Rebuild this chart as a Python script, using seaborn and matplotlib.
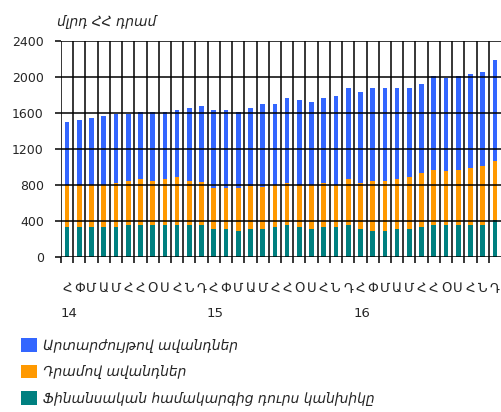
import matplotlib
matplotlib.use("Agg")
import matplotlib.pyplot as plt
from matplotlib.patches import Patch
import numpy as np
import pandas as pd
import seaborn as sns

# Monthly money components, bn AMD, Jan 2014 – Dec 2016
cash = [333, 333, 333, 333, 333, 356, 356, 356, 356, 356, 356, 356,
        311, 311, 289, 311, 311, 333, 356, 333, 311, 333, 333, 356,
        311, 289, 289, 311, 311, 333, 356, 356, 356, 356, 356, 411]
dram_dep = [467, 467, 467, 467, 489, 488, 511, 488, 511, 533, 488, 477,
            456, 456, 478, 478, 467, 467, 466, 467, 489, 489, 467, 511,
            511, 555, 555, 556, 578, 600, 611, 600, 611, 633, 655, 656]
fx_dep = [700, 722, 744, 767, 767, 745, 744, 767, 744, 744, 812, 845,
          866, 866, 844, 867, 922, 900, 945, 944, 922, 945, 989, 1011,
          1011, 1034, 1034, 1011, 989, 989, 1044, 1033, 1044, 1044, 1045, 1122]

month_letters = ["Հ", "Փ", "Մ", "Ա", "Մ", "Հ", "Հ", "Օ", "Ս", "Հ", "Ն", "Դ"]
years = ["14", "15", "16"]
y_ticks = [0, 400, 800, 1200, 1600, 2000, 2400]

series_labels = ["Արտարժույթով ավանդներ", "Դրամով ավանդներ",
                 "Ֆինանսական համակարգից դուրս կանխիկը"]
colors = ["#3366ff", "#ff9900", "#008080"]

n = len(cash)
df = pd.DataFrame({
    "idx": np.arange(n),
    "cash": cash,
    "dram": np.array(cash) + np.array(dram_dep),
    "total": np.array(cash) + np.array(dram_dep) + np.array(fx_dep),
})

sns.set_style("white")
plt.rcParams["font.family"] = ["DejaVu Sans"]

fig = plt.figure(figsize=(5.01, 4.12), dpi=100)
ax = fig.add_axes([61 / 501, 155 / 412, 440 / 501, 216 / 412])

# stacked bars: draw the cumulative layers from the tallest down
for col, c in zip(["total", "dram", "cash"], colors):
    sns.barplot(data=df, x="idx", y=col, color=c, saturation=1,
                width=0.38, linewidth=0, errorbar=None, ax=ax,
                native_scale=True)

ax.set_xlim(-0.5, n - 0.5)
ax.set_ylim(0, 2400)
ax.set_xlabel("")
ax.set_ylabel("")
for s in ax.spines.values():
    s.set_visible(False)

# month initials under each bar, boundary lines between bars
ax.set_xticks(np.arange(n))
ax.set_xticklabels(month_letters * len(years), fontsize=9.5)
ax.set_xticks(np.arange(n) - 0.5, minor=True)
ax.tick_params(axis="x", which="major", length=0, pad=18)
ax.tick_params(axis="x", which="minor", length=4.3, width=1.1,
               color="black", direction="out")
ax.tick_params(axis="x", which="both", bottom=True)

ax.set_yticks(y_ticks)
ax.set_yticklabels([str(v) for v in y_ticks], fontsize=9)
ax.tick_params(axis="y", length=4.3, width=1.1, color="black",
               pad=8, left=True)

ax.grid(False)
ax.grid(True, which="minor", axis="x", color="black", linewidth=1.1)
ax.grid(True, which="major", axis="y", color="black", linewidth=1.1)
ax.set_axisbelow(False)

# year labels under each January
for i, yr in enumerate(years):
    ax.annotate(yr, xy=(i * 12 - 0.55, 0), xycoords=("data", "axes fraction"),
                xytext=(0, -40.5), textcoords="offset points",
                ha="left", va="center", fontsize=9.5)

fig.text(57 / 501, 1 - 22 / 412, "մլրդ ՀՀ դրամ", fontsize=10,
         style="italic", ha="left", va="center")

handles = [Patch(facecolor=c, edgecolor="none") for c in colors]
fig.legend(handles, series_labels, loc="upper left",
           bbox_to_anchor=(21 / 501, 1 - 338 / 412), frameon=False,
           borderpad=0, borderaxespad=0, handlelength=1.15,
           handleheight=1.15, handletextpad=0.45, labelspacing=0.86,
           prop={"size": 10, "style": "italic"})

fig.savefig("out.png", dpi=100)
